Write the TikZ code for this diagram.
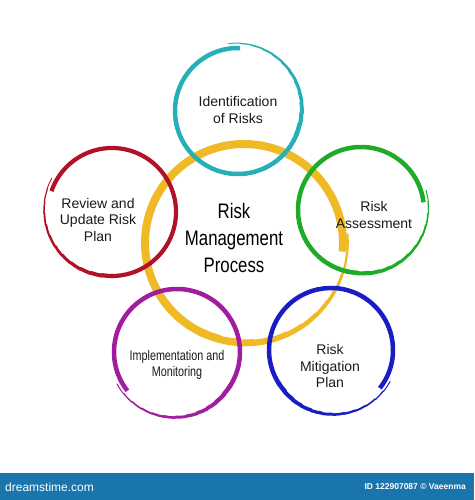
\documentclass[tikz,border=0pt]{standalone}
\usepackage{fontspec}
\setmainfont{Liberation Sans}
\usepackage{xcolor}
\usepackage{tikz}
\definecolor{ringyellow}{RGB}{240,185,38}
\definecolor{ringteal}{RGB}{38,176,182}
\definecolor{ringgreen}{RGB}{30,172,40}
\definecolor{ringred}{RGB}{178,18,40}
\definecolor{ringmagenta}{RGB}{162,28,160}
\definecolor{ringblue}{RGB}{24,30,196}
\definecolor{barblue}{RGB}{27,117,173}
% brush ring: centre, radius, angle of thick end, direction, colour, width
\def\brush#1#2#3#4#5#6{
  \draw[#5,line width=#6pt,line cap=butt] (#1) ++(#3:#2) arc[start angle=#3,delta angle=#4*252,radius=#2];
  \foreach \k in {0,...,11} {
    \pgfmathsetmacro\sa{#3+#4*(250+\k*10)}
    \pgfmathsetmacro\rr{#2+\k*0.45}
    \pgfmathsetmacro\ww{#6*(1-\k/14)}
    \draw[#5,line width=\ww pt,line cap=round] (#1) ++(\sa:\rr) arc[start angle=\sa,delta angle=#4*10,radius=\rr];
  }
}
\tikzstyle{label}=[align=center,font=\fontsize{14}{16.5}\selectfont,text=black!90]
\tikzstyle{title}=[align=center,font=\fontsize{21}{27}\selectfont,xscale=0.8,text=black]
\tikzstyle{bartext}=[text=white,inner sep=0pt]

\begin{document}
\begin{tikzpicture}[x=1pt,y=1pt]
    \useasboundingbox (0,0) rectangle (474,500);
    \coordinate (process) at (244,257);
    \coordinate (ident) at (238,389);
    \coordinate (assess) at (361,290);
    \coordinate (review) at (112,288);
    \coordinate (implement) at (177,148);
    \coordinate (mitigate) at (331,150);
    \brush{process}{99}{-5}{1}{ringyellow}{8}
    \brush{ident}{63}{88}{1}{ringteal}{4.5}
    \brush{assess}{63}{7}{1}{ringgreen}{4.5}
    \brush{review}{64}{161}{-1}{ringred}{4.2}
    \brush{implement}{63}{218}{-1}{ringmagenta}{4.5}
    \brush{mitigate}{62}{-38}{1}{ringblue}{4.5}
    \node[title] (processtext) at (234,262) {Risk\\Management\\Process};
    \node[label] (identtext) at (238,390) {Identification\\of Risks};
    \node[label] (assesstext) at (374,285) {Risk\\Assessment};
    \node[label] (reviewtext) at (98,280) {Review and\\Update Risk\\Plan};
    \node[label,xscale=0.77] (implementtext) at (177,135) {Implementation and\\Monitoring};
    \node[label] (mitigatetext) at (330,134) {Risk\\Mitigation\\Plan};
    % stock bar
    \fill[barblue] (0,0) rectangle (474,27);
    \node[bartext,anchor=west,font=\fontsize{12}{12}\selectfont] (site) at (5,13) {dreamstime.com};
    \node[bartext,anchor=east,font=\fontsize{8.5}{9}\selectfont\bfseries] (id) at (466,13) {ID 122907087 © Vaeenma};
  \end{tikzpicture}
\end{document}
